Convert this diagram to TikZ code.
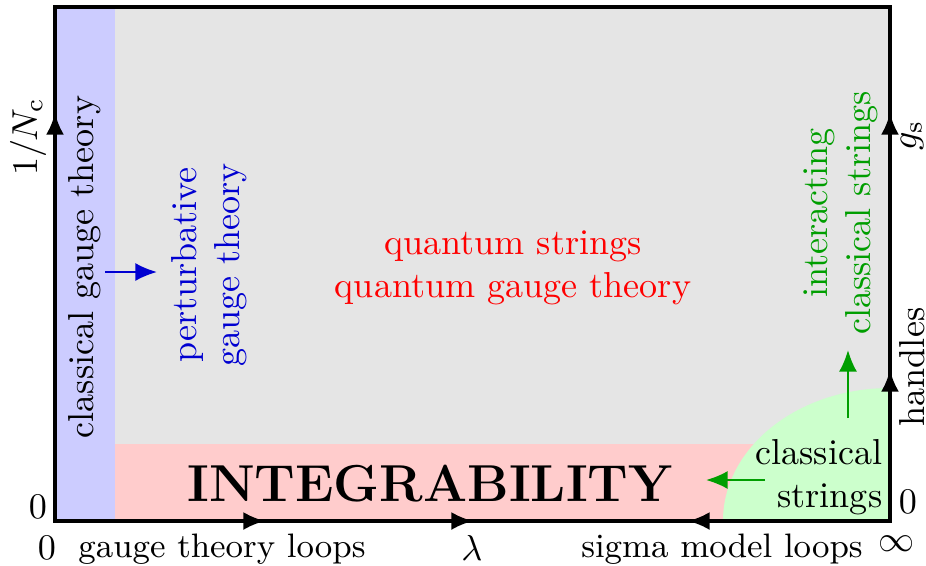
\documentclass[tikz,border=0pt]{standalone}
\usetikzlibrary{arrows.meta}
\definecolor{gbg}{gray}{0.9}
\definecolor{bstrip}{rgb}{0.8,0.8,1}
\definecolor{pstrip}{rgb}{1,0.8,0.8}
\definecolor{gstrip}{rgb}{0.8,1,0.8}
\definecolor{txtblue}{rgb}{0,0,0.82}
\definecolor{txtgreen}{rgb}{0,0.62,0}
\tikzset{
  tip/.style={-{Latex[length=6pt,width=5pt]}},
  lbl/.style={inner sep=0pt},
  axlbl/.style={inner sep=0pt,font=\fontsize{9.4}{11}\selectfont},
  vlbl/.style={inner sep=0pt,rotate=90,align=center},
}
\begin{document}
\begin{tikzpicture}[x=0.277pt,y=-0.277pt]
\useasboundingbox (0,0) rectangle (926,565);
% corners
\coordinate (TL) at (55,7);
\coordinate (BR) at (890,521);
% regions
\fill[gbg] (TL) rectangle (BR);
\fill[pstrip] (115,444) rectangle (BR);
\begin{scope}
\clip (TL) rectangle (BR);
\fill[gstrip] (BR) ellipse [x radius=46.26pt, y radius=36.84pt];
\end{scope}
\fill[bstrip] (55,7) rectangle (115,521);
% frame
\draw[line width=0.9pt] (TL) rectangle (BR);
% axis arrow markers
\coordinate (la0) at (55,140); \coordinate (la1) at (55,113);
\coordinate (ra0) at (890,140); \coordinate (ra1) at (890,113);
\coordinate (ha0) at (890,400); \coordinate (ha1) at (890,370);
\coordinate (b1a) at (240,521); \coordinate (b1b) at (265,521);
\coordinate (b2a) at (448,521); \coordinate (b2b) at (473,521);
\coordinate (b3a) at (713,521); \coordinate (b3b) at (688,521);
\draw[tip,line width=0.9pt] (la0) -- (la1);
\draw[tip,line width=0.9pt] (ra0) -- (ra1);
\draw[tip,line width=0.9pt] (ha0) -- (ha1);
\draw[tip,line width=0.9pt] (b1a) -- (b1b);
\draw[tip,line width=0.9pt] (b2a) -- (b2b);
\draw[tip,line width=0.9pt] (b3a) -- (b3b);
% axis labels
\node[vlbl] (nc) at (28,137) {$1/N_{\mathrm{c}}$};
\node[vlbl] (gs) at (912,135) {$g_{\mathrm{s}}$};
\node[vlbl] (hd) at (912,367) {handles};
\node[lbl] (z1) at (38,507) {$0$};
\node[lbl] (z2) at (908,502) {$0$};
\node[lbl] (z3) at (47,548) {$0$};
\node[axlbl] (gtl) at (222,549) {gauge theory loops};
\node[lbl] (lam) at (472,548) {$\lambda$};
\node[axlbl] (sml) at (722,549) {sigma model loops};
\node[lbl] (inf) at (897,544) {$\infty$};
% region labels
\node[vlbl] (cgt) at (85,267) {classical gauge theory};
\node[vlbl,text=txtblue] (pgt) at (209,265) {perturbative\\gauge theory};
\node[lbl,align=center,text=red] (qs) at (513,268) {quantum strings\\quantum gauge theory};
\node[vlbl,text=txtgreen] (ics) at (841,213) {interacting\\classical strings};
\node[lbl,align=right,anchor=east] (cs) at (883,477) {classical\\strings};
\node[lbl,font=\Large\bfseries] (int) at (430,484) {INTEGRABILITY};
% arrows
\coordinate (ba0) at (105,272); \coordinate (ba1) at (157,272);
\coordinate (gu0) at (848,418); \coordinate (gu1) at (848,350);
\coordinate (gl0) at (765,480); \coordinate (gl1) at (706,480);
\draw[tip,txtblue,line width=0.6pt] (ba0) -- (ba1);
\draw[tip,txtgreen,line width=0.6pt] (gu0) -- (gu1);
\draw[tip,txtgreen,line width=0.6pt] (gl0) -- (gl1);
\end{tikzpicture}
\end{document}
